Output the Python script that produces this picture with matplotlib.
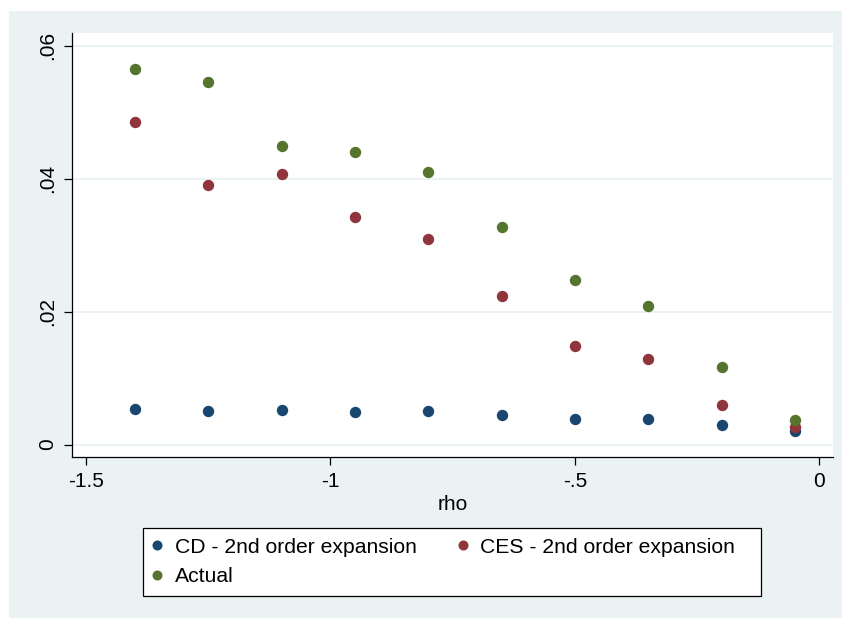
import matplotlib
matplotlib.use("Agg")
import matplotlib.pyplot as plt
from matplotlib.patches import Rectangle

plt.rcParams['font.family'] = ['Liberation Sans', 'DejaVu Sans']

# ---- data ----
rho = [-1.4, -1.25, -1.1, -0.95, -0.8, -0.65, -0.5, -0.35, -0.2, -0.05]
cd_2nd = [0.0054, 0.0050, 0.0052, 0.0049, 0.0050, 0.0045, 0.0038, 0.0038, 0.0030, 0.0020]
ces_2nd = [0.0485, 0.0390, 0.0407, 0.0342, 0.0309, 0.0223, 0.0148, 0.0128, 0.0060, 0.0027]
actual = [0.0565, 0.0545, 0.0449, 0.0440, 0.0410, 0.0327, 0.0247, 0.0209, 0.0117, 0.0037]

xticks = [-1.5, -1.0, -0.5, 0.0]
xticklabels = ['-1.5', '-1', '-.5', '0']
yticks = [0.0, 0.02, 0.04, 0.06]
yticklabels = ['0', '.02', '.04', '.06']
labels = ['CD - 2nd order expansion', 'CES - 2nd order expansion', 'Actual']

NAVY = '#1A476F'
MAROON = '#90353B'
GREEN = '#55752F'
BG = '#EAF2F3'

W, H = 842, 618
fig = plt.figure(figsize=(W / 100, H / 100), dpi=100, facecolor='white')

# outer light background
fig.patches.append(Rectangle((9 / W, 0), 1 - 9 / W, 1 - 11 / H,
                             transform=fig.transFigure, facecolor=BG,
                             edgecolor='none', zorder=-10))

ax = fig.add_axes([72 / W, 1 - 457 / H, (833 - 72) / W, (457 - 33) / H])
ax.set_facecolor('white')

ms = 8.2
h_cd, = ax.plot(rho, cd_2nd, 'o', color=NAVY, ms=ms, mew=0, zorder=3)
h_ces, = ax.plot(rho, ces_2nd, 'o', color=MAROON, ms=ms, mew=0, zorder=3)
h_act, = ax.plot(rho, actual, 'o', color=GREEN, ms=ms, mew=0, zorder=3)

ax.set_xlim(-1.5286, 0.028)
ax.set_ylim(-0.00188, 0.0619)

ax.set_xticks(xticks)
ax.set_xticklabels(xticklabels, fontsize=15)
ax.set_yticks(yticks)
ax.set_yticklabels(yticklabels, fontsize=15, rotation=90, va='center')

ax.grid(axis='y', color=BG, linewidth=1.4, zorder=0)
ax.set_axisbelow(True)

for s in ['top', 'right']:
    ax.spines[s].set_visible(False)
for s in ['left', 'bottom']:
    ax.spines[s].set_linewidth(0.9)
    ax.spines[s].set_color('black')

ax.tick_params(axis='both', direction='out', length=6, width=0.9, color='black')
ax.tick_params(axis='x', pad=4.5)
ax.tick_params(axis='y', pad=5)

ax.set_xlabel('rho', fontsize=15, labelpad=3)

# legend frame
fig.patches.append(Rectangle((143 / W, 1 - 596 / H), (761 - 143) / W, (596 - 528) / H,
                             transform=fig.transFigure, facecolor='white',
                             edgecolor='black', linewidth=0.9, zorder=1))

handles = [h_cd, h_act, h_ces]
hlabels = [labels[0], labels[2], labels[1]]
leg = fig.legend(handles, hlabels, loc='center left',
                 bbox_to_anchor=(149 / W, 1 - 562 / H), ncol=2,
                 frameon=False, fontsize=15.2, borderpad=0, borderaxespad=0,
                 handlelength=0.8, handletextpad=0.42, columnspacing=1.8,
                 labelspacing=0.52, markerscale=0.88)
leg.set_zorder(5)

fig.savefig('out.png', dpi=100, facecolor='white')
